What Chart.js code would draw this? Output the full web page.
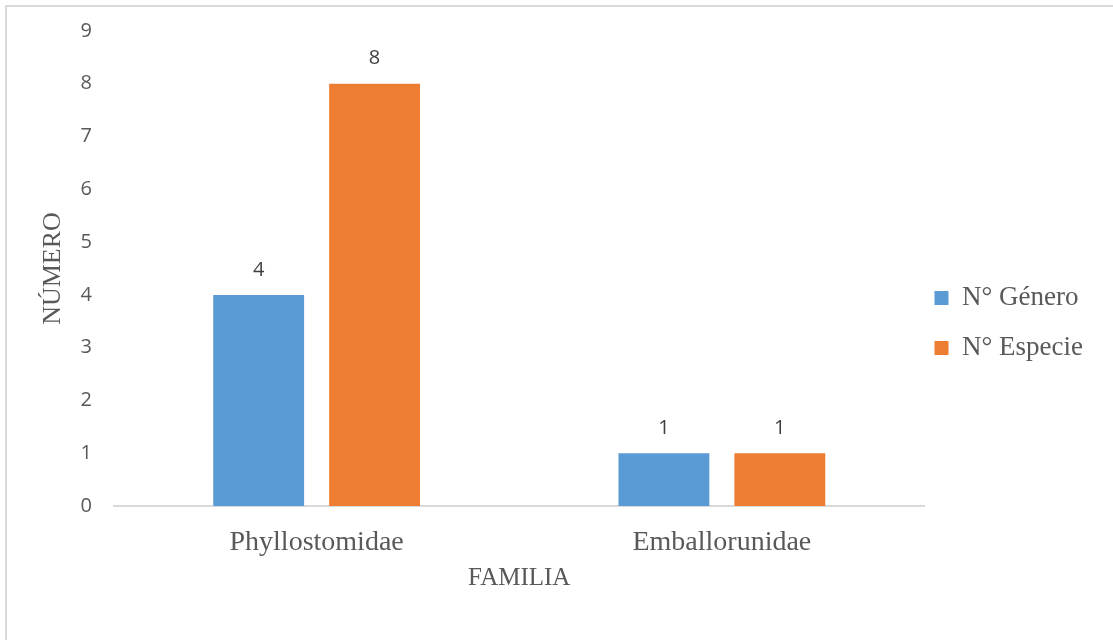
<!DOCTYPE html>
<html>
<head>
<meta charset="utf-8">
<script src="https://cdn.jsdelivr.net/npm/chart.js@4"></script>
<style>
  html, body { margin: 0; padding: 0; background: #ffffff; }
  #wrap { position: relative; width: 1113px; height: 640px; overflow: hidden; }
  #frame { position: absolute; left: 5px; top: 5px; width: 1200px; height: 700px;
           border-top: 2px solid #d9d9d9; border-left: 2px solid #d9d9d9; pointer-events: none; }
  canvas { position: absolute; left: 0; top: 0; }
</style>
</head>
<body>
<div id="wrap">
  <canvas id="c" width="1113" height="640"></canvas>
  <div id="frame"></div>
</div>
<script>
const categories = ['Phyllostomidae', 'Emballorunidae'];
const generoValues = [4, 1];
const especieValues = [8, 1];
const seriesNames = ['N° Género', 'N° Especie'];
const yTicks = [0, 1, 2, 3, 4, 5, 6, 7, 8, 9];

const SERIF = '"Liberation Serif", "Times New Roman", serif';
const SANS = '"Open Sans", "Noto Sans", sans-serif';

const dataLabels = {
  id: 'dataLabels',
  afterDatasetsDraw(chart) {
    const ctx = chart.ctx;
    ctx.save();
    ctx.font = '20px ' + SANS;
    ctx.fillStyle = '#404040';
    ctx.textAlign = 'center';
    ctx.textBaseline = 'middle';
    chart.data.datasets.forEach((ds, i) => {
      const meta = chart.getDatasetMeta(i);
      meta.data.forEach((el, j) => {
        ctx.fillText(String(ds.data[j]), el.x, el.y - 25);
      });
    });
    ctx.restore();
  }
};

new Chart(document.getElementById('c'), {
  type: 'bar',
  data: {
    labels: categories,
    datasets: [
      { label: seriesNames[0], data: generoValues, backgroundColor: '#5B9BD5',
        categoryPercentage: 0.572, barPercentage: 0.784 },
      { label: seriesNames[1], data: especieValues, backgroundColor: '#ED7D31',
        categoryPercentage: 0.572, barPercentage: 0.784 }
    ]
  },
  options: {
    responsive: false,
    animation: false,
    layout: { padding: { top: 31, right: 20, bottom: 12, left: 0 } },
    plugins: {
      tooltip: { enabled: false },
      legend: {
        position: 'right',
        align: 'center',
        labels: {
          boxWidth: 14,
          boxHeight: 14,
          padding: 10,
          color: '#595959',
          font: { family: SERIF, size: 27, lineHeight: '40px' },
          generateLabels(chart) {
            return chart.data.datasets.map((ds, i) => ({
              text: [ds.label],
              fillStyle: ds.backgroundColor,
              strokeStyle: ds.backgroundColor,
              lineWidth: 0,
              fontColor: '#595959',
              hidden: false,
              datasetIndex: i
            }));
          }
        }
      }
    },
    scales: {
      x: {
        grid: { display: false, drawTicks: false },
        border: { display: true, color: '#d9d9d9', width: 2 },
        ticks: { color: '#595959', font: { family: SERIF, size: 28 }, padding: 20 },
        title: { display: true, text: 'FAMILIA', color: '#595959',
                 font: { family: SERIF, size: 25 }, padding: { top: 0, bottom: 35 } },
        afterFit(scale) { scale.height = 122; }
      },
      y: {
        min: 0, max: 9,
        afterBuildTicks(scale) { scale.ticks = yTicks.map(v => ({ value: v })); },
        grid: { display: false, drawTicks: true, tickLength: 16 },
        border: { display: false },
        ticks: { color: '#595959', font: { family: SANS, size: 20 }, padding: 6 },
        title: { display: true, text: 'NÚMERO', color: '#595959',
                 font: { family: SERIF, size: 26 }, padding: { top: 38, bottom: 0 } },
        afterFit(scale) { scale.width = 114; }
      }
    }
  },
  plugins: [dataLabels]
});
</script>
</body>
</html>
